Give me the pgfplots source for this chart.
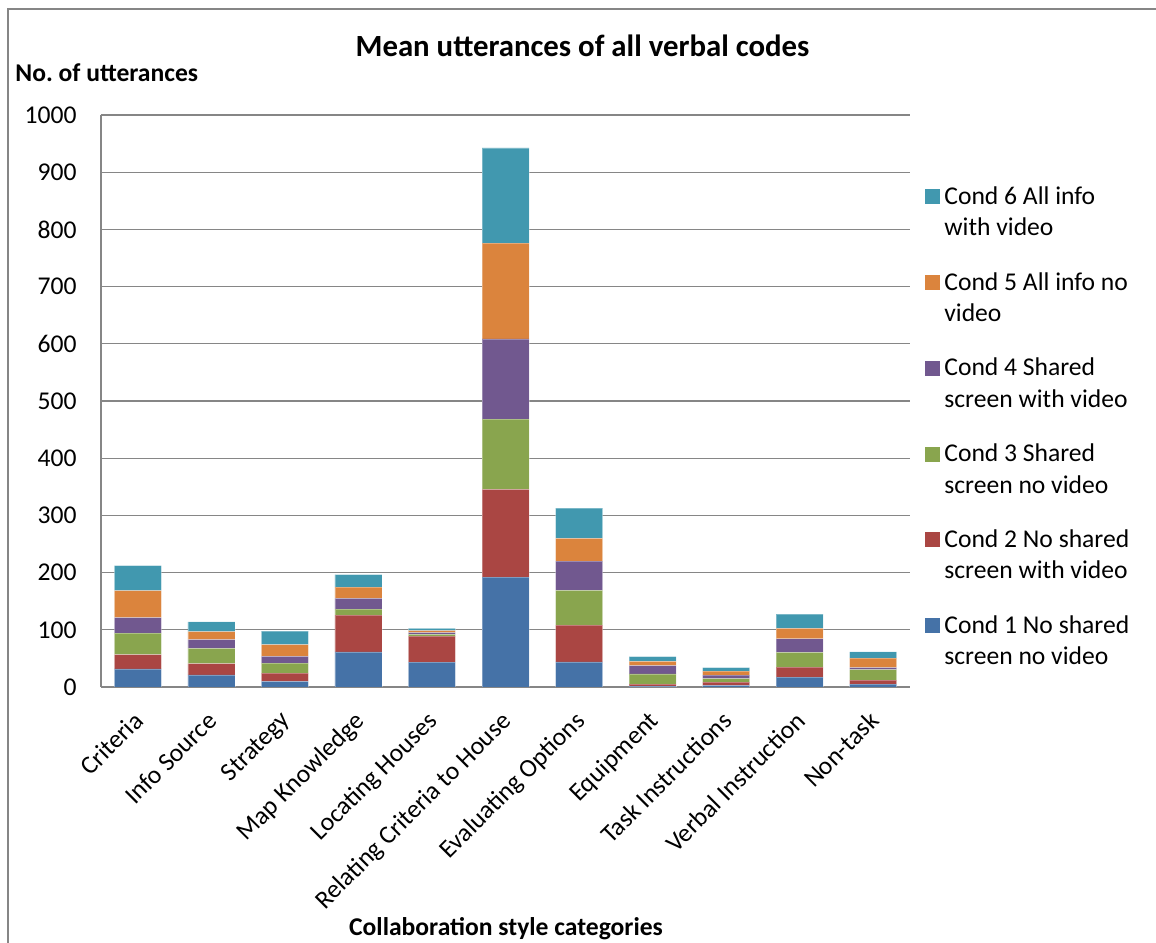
\documentclass[border=0pt]{standalone}
\usepackage{pgfplots}
\pgfplotsset{compat=1.18}
\usepackage{fontspec}
\setmainfont{Carlito}
\definecolor{cA}{HTML}{4572A7}
\definecolor{cB}{HTML}{AA4643}
\definecolor{cC}{HTML}{89A54E}
\definecolor{cD}{HTML}{71588F}
\definecolor{cE}{HTML}{DB843D}
\definecolor{cF}{HTML}{4198AF}
\definecolor{gridgrey}{HTML}{868686}
\begin{document}
\begin{tikzpicture}
\useasboundingbox (0,0) rectangle (578pt,471pt);
\draw[gridgrey, line width=0.7pt] (4pt,-20pt) -- (4pt,466.5pt) -- (620pt,466.5pt);
\begin{axis}[
  at={(50.5pt,127.5pt)}, anchor=south west,
  scale only axis, width=404.5pt, height=286pt,
  ybar stacked, bar width=23.5pt,
  xmin=-0.5, xmax=10.5, ymin=0, ymax=1000,
  xtick={0,...,10},
  xticklabels={Criteria, Info Source, Strategy, Map Knowledge, Locating Houses, Relating Criteria to House, Evaluating Options, Equipment, Task Instructions, Verbal Instruction, Non-task},
  ytick={0,100,...,1000},
  font=\fontsize{12.8}{15.75}\selectfont,
  /pgf/number format/assume math mode=true,
  /pgf/number format/1000 sep={},
  yticklabel style={inner xsep=0pt, xshift=-12pt, font=\fontsize{12.8}{15.75}\selectfont},
  xticklabel style={anchor=north east, inner sep=0pt, xshift=-2.75pt, yshift=-11.25pt, rotate=45, font=\fontsize{12.8}{15.75}\selectfont},
  major tick length=0pt,
  axis x line*=bottom, axis y line*=left,
  axis line style={gridgrey, line width=0.8pt, -},
  ymajorgrids, major grid style={gridgrey, line width=0.65pt},
  reverse legend,
  legend cell align=left,
  legend style={at={(1.0185,0.4545)}, anchor=west, draw=none, fill=none, inner sep=0pt,
     row sep=12.75pt, column sep=0pt,
     font=\fontsize{12.8}{15.75}\selectfont,
     cells={align=left, inner xsep=0pt, inner ysep=0pt}},
  every axis plot post/.append style={draw=white, draw opacity=0.3, line width=0.3pt,
     legend image code/.code={\fill[##1, draw=none] (0pt,4.15pt) rectangle (7.5pt,11.65pt);}},
]
\addplot[fill=cA] coordinates {(0,31.5) (1,21.3) (2,9.7) (3,61.2) (4,43.3) (5,192.3) (6,43.9) (7,1.5) (8,2.9) (9,17.4) (10,5.2)};
\addplot[fill=cB] coordinates {(0,25) (1,19.4) (2,14.5) (3,64.5) (4,45.8) (5,153.4) (6,64.3) (7,3.5) (8,5.8) (9,17.5) (10,7)};
\addplot[fill=cC] coordinates {(0,37.7) (1,27) (2,17.6) (3,10.6) (4,3) (5,122.5) (6,60.6) (7,18) (8,5.8) (9,25.6) (10,18)};
\addplot[fill=cD] coordinates {(0,27) (1,15.2) (2,11.7) (3,18.5) (4,3) (5,140.3) (6,51.4) (7,14.5) (8,6.4) (9,23.8) (10,3.5)};
\addplot[fill=cE] coordinates {(0,47.5) (1,14.1) (2,20.5) (3,20) (4,3.6) (5,167.6) (6,39.5) (7,7.5) (8,7) (9,18) (10,16.9)};
\addplot[fill=cF] coordinates {(0,43.5) (1,17) (2,23.6) (3,21.7) (4,3.7) (5,166.4) (6,53.2) (7,8.2) (8,5.8) (9,25) (10,11)};
\legend{Cond 1 No shared\\screen no video, Cond 2 No shared\\screen with video, Cond 3 Shared\\screen no video, Cond 4 Shared\\screen with video, Cond 5 All info no\\video, Cond 6 All info\\with video}
\end{axis}
\node[anchor=base, font=\fontsize{15.4}{18}\selectfont\bfseries] at (291.25pt,442.5pt) {Mean utterances of all verbal codes};
\node[anchor=base west, inner sep=0pt, font=\fontsize{12.8}{15.75}\selectfont\bfseries] at (7.5pt,430pt) {No.\ of utterances};
\node[anchor=base, inner sep=0pt, font=\fontsize{12.8}{15.75}\selectfont\bfseries] at (253pt,3pt) {Collaboration style categories};
\end{tikzpicture}
\end{document}
